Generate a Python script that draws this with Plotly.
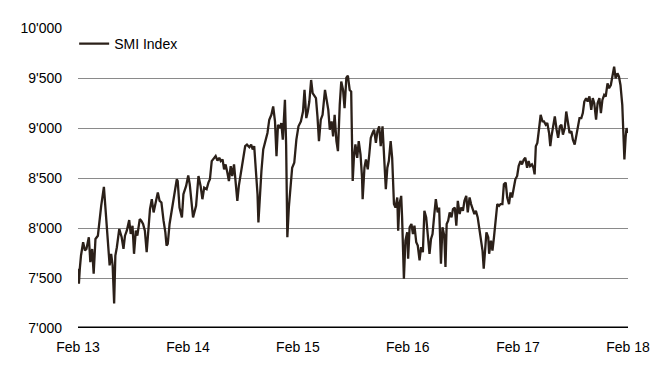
import plotly.graph_objects as go

dates = [
"2013-02-01","2013-02-04","2013-02-07","2013-02-11","2013-02-18","2013-02-24","2013-03-01","2013-03-09","2013-03-14","2013-03-20",
"2013-03-25","2013-03-31","2013-04-08","2013-04-14","2013-04-19","2013-04-28","2013-05-03","2013-05-08","2013-05-11","2013-05-17",
"2013-05-22","2013-05-27","2013-06-01","2013-06-05","2013-06-10","2013-06-18","2013-06-26","2013-07-02","2013-07-07","2013-07-13",
"2013-07-21","2013-07-26","2013-08-01","2013-08-06","2013-08-12","2013-08-17","2013-08-25","2013-08-30","2013-09-05","2013-09-11",
"2013-09-17","2013-09-21","2013-09-28","2013-10-04","2013-10-10","2013-10-18","2013-10-24","2013-10-30","2013-11-05","2013-11-12",
"2013-11-18","2013-11-22","2013-11-26","2013-12-02","2013-12-10","2013-12-17","2013-12-26","2013-12-29","2014-01-04","2014-01-12",
"2014-01-17","2014-01-26","2014-02-02","2014-02-07","2014-02-13","2014-02-18","2014-02-28","2014-03-08","2014-03-15","2014-03-21",
"2014-03-27","2014-04-04","2014-04-10","2014-04-15","2014-04-21","2014-04-26","2014-05-04","2014-05-10","2014-05-16","2014-05-21",
"2014-05-27","2014-06-01","2014-06-06","2014-06-12","2014-06-17","2014-06-23","2014-06-28","2014-07-04","2014-07-09","2014-07-15",
"2014-07-20","2014-07-28","2014-08-04","2014-08-10","2014-08-16","2014-08-24","2014-08-30","2014-09-04","2014-09-09","2014-09-15",
"2014-09-20","2014-09-23","2014-09-28","2014-10-03","2014-10-09","2014-10-15","2014-10-23","2014-10-29","2014-11-05","2014-11-11",
"2014-11-17","2014-11-22","2014-11-27","2014-12-03","2014-12-08","2014-12-13","2014-12-20","2014-12-24","2014-12-28","2015-01-02",
"2015-01-07","2015-01-13","2015-01-20","2015-01-27","2015-02-03","2015-02-11","2015-02-18","2015-02-23","2015-03-01","2015-03-06",
"2015-03-11","2015-03-17","2015-03-22","2015-04-02","2015-04-07","2015-04-12","2015-04-18","2015-04-24","2015-05-02","2015-05-07",
"2015-05-13","2015-05-18","2015-05-24","2015-05-29","2015-06-03","2015-06-09","2015-06-14","2015-06-20","2015-06-25","2015-07-01",
"2015-07-06","2015-07-12","2015-07-17","2015-07-23","2015-07-28","2015-07-30","2015-08-02","2015-08-06","2015-08-11","2015-08-17",
"2015-08-22","2015-08-28","2015-09-02","2015-09-04","2015-09-10","2015-09-15","2015-09-21","2015-09-26","2015-10-01","2015-10-07",
"2015-10-12","2015-10-18","2015-10-23","2015-10-29","2015-11-03","2015-11-09","2015-11-14","2015-11-20","2015-11-25","2015-11-30",
"2015-12-06","2015-12-11","2015-12-17","2015-12-22","2015-12-28","2015-12-31","2016-01-04","2016-01-10","2016-01-13","2016-01-19",
"2016-01-24","2016-01-30","2016-02-02","2016-02-07","2016-02-13","2016-02-18","2016-02-23","2016-02-29","2016-03-05","2016-03-11",
"2016-03-16","2016-03-22","2016-03-27","2016-04-02","2016-04-07","2016-04-13","2016-04-18","2016-04-23","2016-04-29","2016-05-04",
"2016-05-10","2016-05-15","2016-05-21","2016-05-26","2016-06-01","2016-06-05","2016-06-09","2016-06-14","2016-06-19","2016-06-25",
"2016-06-30","2016-07-06","2016-07-11","2016-07-16","2016-07-22","2016-07-27","2016-08-02","2016-08-07","2016-08-13","2016-08-18",
"2016-08-24","2016-08-29","2016-09-09","2016-09-14","2016-09-20","2016-09-25","2016-10-01","2016-10-06","2016-10-10","2016-10-14",
"2016-10-19","2016-10-25","2016-10-28","2016-11-03","2016-11-08","2016-11-13","2016-11-19","2016-11-24","2016-11-30","2016-12-05",
"2016-12-11","2016-12-16","2016-12-22","2016-12-27","2017-01-02","2017-01-07","2017-01-12","2017-01-18","2017-01-23","2017-01-29",
"2017-02-03","2017-02-09","2017-02-14","2017-02-20","2017-02-25","2017-03-03","2017-03-08","2017-03-13","2017-03-19","2017-03-24",
"2017-03-28","2017-04-01","2017-04-06","2017-04-12","2017-04-17","2017-04-23","2017-04-28","2017-05-04","2017-05-09","2017-05-15",
"2017-05-19","2017-05-23","2017-05-29","2017-06-03","2017-06-09","2017-06-14","2017-06-20","2017-06-25","2017-06-30","2017-07-06",
"2017-07-11","2017-07-17","2017-07-22","2017-07-28","2017-08-02","2017-08-08","2017-08-13","2017-08-19","2017-08-24","2017-08-30",
"2017-09-04","2017-09-09","2017-09-15","2017-09-20","2017-09-26","2017-10-02","2017-10-07","2017-10-12","2017-10-18","2017-10-23",
"2017-10-29","2017-11-03","2017-11-08","2017-11-14","2017-11-19","2017-11-25","2017-11-30","2017-12-06","2017-12-11","2017-12-17",
"2017-12-22","2017-12-28","2018-01-02","2018-01-07","2018-01-13","2018-01-16","2018-01-20","2018-01-24","2018-01-27","2018-01-30",
]

smi = [
7593,7444,7593,7725,7857,7775,7790,7907,7659,7790,
7543,7890,7923,8106,8222,8411,8205,7907,7775,7626,
7742,7626,7245,7725,7808,7990,7907,7792,7923,7973,
8079,7940,8023,7742,7973,7923,8089,8073,8040,7973,
7758,7923,8189,8288,8156,8271,8354,8271,8255,8073,
7957,7824,7841,8040,8205,8305,8487,8470,8205,8106,
8338,8421,8525,8437,8288,8106,8222,8520,8421,8288,
8404,8388,8454,8487,8669,8685,8719,8675,8702,8669,
8685,8586,8636,8553,8470,8619,8520,8636,8454,8272,
8421,8570,8669,8818,8834,8808,8834,8785,8818,8570,
8338,8056,8371,8570,8785,8867,8950,9083,9132,9215,
9066,8719,9033,9000,9050,8884,9281,8834,7907,8205,
8404,8603,8652,8884,9017,9066,9165,9381,9099,9165,
9265,9480,9348,9298,9116,8868,9083,9132,9381,9265,
9182,8983,9066,8917,9132,8868,8768,9232,9464,9381,
9199,9503,9523,9381,9364,8994,8470,8702,8835,8702,
8868,8735,8503,8288,8603,8685,8586,8735,8901,8950,
8983,8851,8967,9017,8818,9017,8768,8388,8603,8669,
8868,8702,8239,8205,8305,7974,8239,8321,8106,7494,
7874,7957,7692,8007,8040,7940,8023,7857,7824,7676,
7808,7758,8172,8106,7940,7742,7890,7940,8139,8288,
8156,8205,7643,8007,7924,7610,8040,8073,8156,8106,
8189,8205,8023,8272,8139,8205,8172,8272,8321,8156,
8305,8239,8139,8172,8106,8007,7891,7775,7593,7808,
7957,7907,7742,7874,7775,7907,8139,8239,8222,8239,
8239,8437,8454,8305,8239,8355,8305,8404,8487,8520,
8619,8669,8636,8685,8702,8603,8669,8619,8636,8603,
8536,8818,8851,9000,9132,9066,9066,9033,9050,8950,
8818,8917,9050,9116,8983,8901,9017,9033,8934,9000,
9165,9066,8950,8967,8884,8834,8917,9050,9099,9099,
9149,9265,9298,9265,9315,9182,9298,9248,9083,9248,
9298,9149,9281,9331,9315,9447,9397,9430,9530,9613,
9497,9547,9513,9430,9232,9000,8685,8901,9000,8950,
]

tick_dates = ["2013-02-01","2014-02-01","2015-02-01","2016-02-01","2017-02-01","2018-02-01"]
tick_text = ["Feb 13","Feb 14","Feb 15","Feb 16","Feb 17","Feb 18"]
y_ticks = [7000,7500,8000,8500,9000,9500,10000]
y_text = ["7'000","7'500","8'000","8'500","9'000","9'500","10'000"]
series_name = "SMI Index"

font = "Liberation Sans"

fig = go.Figure()
fig.add_trace(go.Scatter(
    x=dates, y=smi, mode="lines", name=series_name,
    line=dict(color="#2b2019", width=2.3),
))

fig.update_layout(
    width=656, height=359,
    margin=dict(l=63, r=36, t=18, b=39),
    paper_bgcolor="white", plot_bgcolor="white",
    font=dict(family=font, size=14, color="#000000"),
    showlegend=True,
    legend=dict(x=-0.007, y=1.0, xanchor="left", yanchor="top",
                bgcolor="rgba(0,0,0,0)", borderwidth=0,
                font=dict(family=font, size=14, color="#000000"),
                itemwidth=30, tracegroupgap=0),
)
fig.update_xaxes(
    type="date", range=["2013-02-01", "2018-02-01"],
    tickmode="array", tickvals=tick_dates, ticktext=tick_text,
    showgrid=False, zeroline=False,
    showline=False, ticks="", ticklabelstandoff=9,
)
fig.update_yaxes(
    range=[7000, 10000],
    tickmode="array", tickvals=y_ticks, ticktext=y_text,
    showgrid=True, gridcolor="#8a8a8a", gridwidth=1,
    zeroline=False, showline=False, ticks="", ticklabelstandoff=15,
)
fig.add_hline(y=7000, line=dict(color="black", width=3), layer="above")

fig.write_html("out.html")
